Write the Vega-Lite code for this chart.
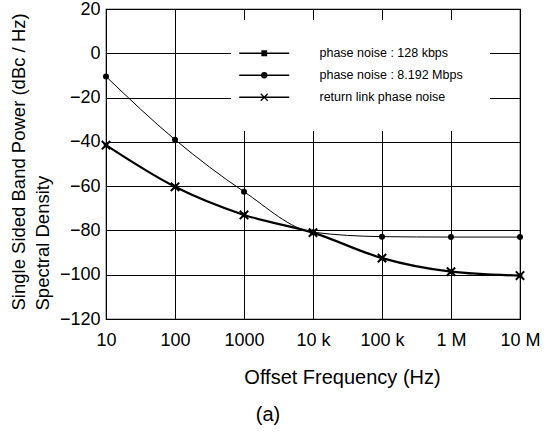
{
  "$schema": "https://vega.github.io/schema/vega-lite/v6.json",
  "autosize": {"type": "none"},
  "width": 414,
  "height": 310,
  "padding": {"left": 106, "top": 9, "right": 29, "bottom": 115},
  "background": "white",
  "title": {"text": "(a)", "orient": "bottom", "anchor": "middle", "frame": "group", "dx": -45, "offset": 18, "fontSize": 20, "fontWeight": "normal", "font": "Liberation Sans", "color": "black"},
  "config": {
    "font": "Liberation Sans",
    "view": {"stroke": "black", "strokeWidth": 1.2},
    "axis": {
      "grid": true, "gridColor": "black", "gridOpacity": 1, "gridWidth": 1,
      "domain": false, "ticks": false, "tickSize": 0,
      "labelColor": "black", "labelFontSize": 18, "labelFont": "Liberation Sans",
      "titleColor": "black", "titleFontSize": 18.5, "titleFontWeight": "normal", "titleFont": "Liberation Sans"
    }
  },
  "data": {"values": [
    {"f": 10, "v": -10.5, "s": "phase noise : 8.192 Mbps"},
    {"f": 100, "v": -39, "s": "phase noise : 8.192 Mbps"},
    {"f": 1000, "v": -62.5, "s": "phase noise : 8.192 Mbps"},
    {"f": 10000, "v": -80.8, "s": "phase noise : 8.192 Mbps"},
    {"f": 100000, "v": -82.8, "s": "phase noise : 8.192 Mbps"},
    {"f": 1000000, "v": -83, "s": "phase noise : 8.192 Mbps"},
    {"f": 10000000, "v": -83, "s": "phase noise : 8.192 Mbps"},
    {"f": 10, "v": -41.5, "s": "return link phase noise"},
    {"f": 100, "v": -60.3, "s": "return link phase noise"},
    {"f": 1000, "v": -73, "s": "return link phase noise"},
    {"f": 10000, "v": -81, "s": "return link phase noise"},
    {"f": 100000, "v": -92.5, "s": "return link phase noise"},
    {"f": 1000000, "v": -98.6, "s": "return link phase noise"},
    {"f": 10000000, "v": -100.4, "s": "return link phase noise"},
    {"f": 10, "v": -41.5, "s": "phase noise : 128 kbps"},
    {"f": 100, "v": -60.3, "s": "phase noise : 128 kbps"},
    {"f": 1000, "v": -73, "s": "phase noise : 128 kbps"},
    {"f": 10000, "v": -81, "s": "phase noise : 128 kbps"},
    {"f": 100000, "v": -92.5, "s": "phase noise : 128 kbps"},
    {"f": 1000000, "v": -98.6, "s": "phase noise : 128 kbps"},
    {"f": 10000000, "v": -100.4, "s": "phase noise : 128 kbps"}
  ]},
  "encoding": {
    "x": {"field": "f", "type": "quantitative",
      "scale": {"type": "log", "domain": [10, 10000000], "nice": false},
      "axis": {"values": [10, 100, 1000, 10000, 100000, 1000000, 10000000],
        "labelExpr": "datum.value >= 1000000 ? round(datum.value/1000000) + ' M' : datum.value >= 10000 ? round(datum.value/1000) + ' k' : '' + round(datum.value)",
        "labelPadding": 12, "labelFlush": false,
        "title": "Offset Frequency (Hz)", "titleX": 236, "titleY": 58, "titleBaseline": "middle", "titleFontSize": 20}},
    "y": {"field": "v", "type": "quantitative",
      "scale": {"domain": [-120, 20], "nice": false, "zero": false},
      "axis": {"values": [-120, -100, -80, -60, -40, -20, 0, 20], "labelPadding": 6,
        "title": ["Single Sided Band Power   (dBc / Hz)", "Spectral Density"],
        "titleAngle": -90, "titleAlign": "left", "titleBaseline": "middle", "titleLineHeight": 24,
        "titleX": -88, "titleY": 301}}
  },
  "layer": [
    {"transform": [{"filter": "datum.s === 'phase noise : 8.192 Mbps'"}],
     "mark": {"type": "line", "interpolate": "monotone", "color": "black", "strokeWidth": 1}},
    {"transform": [{"filter": "datum.s === 'return link phase noise'"}],
     "mark": {"type": "line", "interpolate": "monotone", "color": "black", "strokeWidth": 2.2}},
    {"transform": [{"filter": "datum.s === 'phase noise : 8.192 Mbps'"}],
     "mark": {"type": "point", "shape": "circle", "filled": true, "color": "black", "size": 36, "opacity": 1}},
    {"transform": [{"filter": "datum.s === 'phase noise : 128 kbps'"}],
     "mark": {"type": "point", "shape": "square", "filled": true, "color": "black", "size": 20, "opacity": 1}},
    {"transform": [{"filter": "datum.s === 'return link phase noise'"}],
     "mark": {"type": "point", "shape": "M-1,-1L1,1M-1,1L1,-1", "filled": false, "color": "black", "size": 70, "strokeWidth": 2, "opacity": 1}},
    {"mark": {"type": "point", "filled": false, "color": "black", "strokeWidth": 1.2, "opacity": 0},
     "encoding": {
       "shape": {"field": "s", "type": "nominal",
         "scale": {"domain": ["phase noise : 128 kbps", "phase noise : 8.192 Mbps", "return link phase noise"],
           "range": ["M-5,0L5,0M-0.45,-0.45L0.45,-0.45L0.45,0.45L-0.45,0.45ZM-0.2,-0.2L0.2,-0.2L0.2,0.2L-0.2,0.2Z", "M-5,0L5,0M-0.5,0A0.5,0.5 0 1,0 0.5,0A0.5,0.5 0 1,0 -0.5,0ZM-0.2,0A0.2,0.2 0 1,0 0.2,0A0.2,0.2 0 1,0 -0.2,0Z", "M-5,0L5,0M-0.7,-0.7L0.7,0.7M-0.7,0.7L0.7,-0.7"]},
         "legend": {"title": null, "orient": "none", "legendX": 125, "legendY": 11,
           "fillColor": "white", "padding": 27, "symbolSize": 100,
           "symbolStrokeColor": "black", "symbolStrokeWidth": 1.3, "symbolOpacity": 1,
           "labelFontSize": 12.5, "labelFont": "Liberation Sans", "labelColor": "black", "labelOffset": 49, "rowPadding": 9,
           "labelLimit": 400,
           "encode": {"symbols": {"update": {"strokeWidth": {"signal": "datum.value === 'phase noise : 128 kbps' ? 2 : 1.1"}}}}}}
     }}
  ]
}
